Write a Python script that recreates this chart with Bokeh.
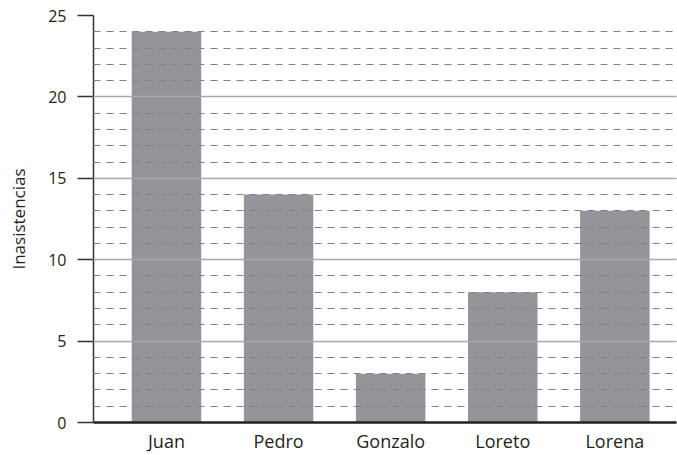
from bokeh.plotting import figure
from bokeh.models import FixedTicker, SingleIntervalTicker, Range1d
from bokeh.embed import file_html
from bokeh.resources import INLINE

names = ["Juan", "Pedro", "Gonzalo", "Loreto", "Lorena"]
inasistencias = [24, 14, 3, 8, 13]
positions = list(range(len(names)))
y_ticks = [0, 5, 10, 15, 20, 25]

p = figure(width=677, height=455, output_backend="svg", toolbar_location=None,
           x_range=Range1d(-0.651, 4.55), y_range=Range1d(0, 25),
           min_border_left=93, min_border_right=1, min_border_top=15, min_border_bottom=33)
p.outline_line_color = None
p.background_fill_color = "white"

p.vbar(x=positions, top=inasistencias, width=0.62, color="#939598", line_color=None)

font = "Open Sans"
text_col = "#231f20"

# y axis
ya = p.yaxis[0]
ya.ticker = FixedTicker(ticks=y_ticks)
ya.axis_label = "Inasistencias"
ya.axis_label_text_font = font
ya.axis_label_text_font_style = "normal"
ya.axis_label_text_font_size = "17px"
ya.axis_label_text_color = text_col
ya.axis_label_standoff = 15
ya.major_label_text_font = font
ya.major_label_text_font_size = "16px"
ya.major_label_text_color = text_col
ya.major_label_standoff = 11
ya.major_tick_out = 16
ya.major_tick_in = 0
ya.minor_tick_out = 0
ya.minor_tick_in = 0
ya.major_tick_line_color = "#333333"
ya.major_tick_line_width = 1.5
ya.axis_line_color = "#333333"
ya.axis_line_width = 1.5

# x axis
xa = p.xaxis[0]
xa.ticker = FixedTicker(ticks=positions)
xa.major_label_overrides = {i: n for i, n in zip(positions, names)}
xa.major_label_text_font = font
xa.major_label_text_font_size = "18px"
xa.major_label_text_color = text_col
xa.major_label_standoff = 6
xa.major_tick_out = 0
xa.major_tick_in = 0
xa.minor_tick_out = 0
xa.minor_tick_in = 0
xa.axis_line_color = "#231f20"
xa.axis_line_width = 2.5

p.xgrid.visible = False
g = p.ygrid[0]
g.ticker = SingleIntervalTicker(interval=5, num_minor_ticks=5)
g.grid_line_color = "#a7a9ac"
g.grid_line_width = 1.5
g.minor_grid_line_color = "#808285"
g.minor_grid_line_width = 1
g.minor_grid_line_dash = "7 6"
g.level = "overlay"

open("out.html", "w").write(file_html(p, INLINE))
